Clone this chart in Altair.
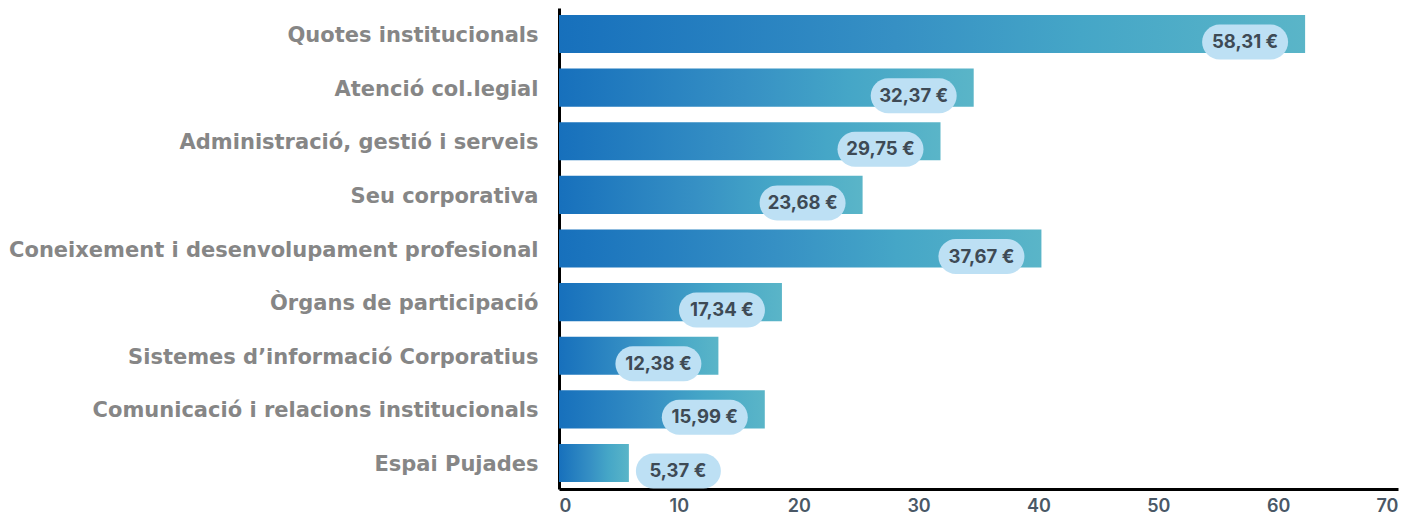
import altair as alt
import pandas as pd

categories = [
    "Quotes institucionals\u00a0",
    "Atenció col.legial",
    "Administració, gestió i serveis",
    "Seu corporativa",
    "Coneixement i desenvolupament profesional",
    "Òrgans de participació",
    "Sistemes d’informació Corporatius",
    "Comunicació i relacions institucionals",
    "Espai Pujades",
]
bar_values = [62.25, 34.6, 31.83, 25.33, 40.25, 18.6, 13.3, 17.17, 5.83]
value_labels = ["58,31 €", "32,37 €", "29,75 €", "23,68 €", "37,67 €",
                "17,34 €", "12,38 €", "15,99 €", "5,37 €"]
x_ticks = [0, 10, 20, 30, 40, 50, 60, 70]

df = pd.DataFrame({"cat": categories, "bar": bar_values, "label": value_labels})

FONT = "Inter"
LABEL_FONT = "DejaVu Sans"

y_enc = alt.Y(
    "cat:N", sort=categories, title=None,
    scale=alt.Scale(paddingInner=0.29, paddingOuter=0.13),
    axis=alt.Axis(
        labelFont=LABEL_FONT, labelFontSize=21, labelFontWeight="bold", labelColor="#868686",
        labelPadding=21, labelOffset=2, ticks=False, domainColor="#000000", domainWidth=3,
        labelLimit=600,
    ),
)
x_enc = alt.X(
    "bar:Q", title=None,
    scale=alt.Scale(domain=[0, 70], nice=False),
    axis=alt.Axis(
        values=x_ticks, labelFont=FONT, labelFontSize=18, labelFontWeight=600,
        labelColor="#4a5866", labelPadding=8, ticks=False, grid=False,
        domainColor="#000000", domainWidth=3,
    ),
)

gradient = alt.Gradient(
    gradient="linear",
    stops=[
        alt.GradientStop(color="#1770bc", offset=0),
        alt.GradientStop(color="#3690c4", offset=0.45),
        alt.GradientStop(color="#45a6c7", offset=0.7),
        alt.GradientStop(color="#5ab5c8", offset=1),
    ],
    x1=0, x2=1, y1=0, y2=0,
)

base = alt.Chart(df)

bars = base.mark_bar(color=gradient).encode(x=x_enc, y=y_enc)

inside = alt.datum.bar > 10
outside = alt.datum.bar <= 10

pill_in = base.transform_filter(inside).mark_bar(
    color="#bde0f4", height=35, yOffset=8, cornerRadius=17.5,
    xOffset=-103, x2Offset=-17,
).encode(x="bar:Q", x2="bar:Q", y=alt.Y("cat:N", sort=categories))

pill_out = base.transform_filter(outside).mark_bar(
    color="#bde0f4", height=35, yOffset=8, cornerRadius=17.5,
    xOffset=7, x2Offset=92,
).encode(x="bar:Q", x2="bar:Q", y=alt.Y("cat:N", sort=categories))

text_in = base.transform_filter(inside).mark_text(
    font=FONT, fontSize=18.5, fontWeight=700, color="#3e4a55",
    dx=-60, dy=8, align="center", baseline="middle",
).encode(x="bar:Q", y=alt.Y("cat:N", sort=categories), text="label:N")

text_out = base.transform_filter(outside).mark_text(
    font=FONT, fontSize=18.5, fontWeight=700, color="#3e4a55",
    dx=49, dy=8, align="center", baseline="middle",
).encode(x="bar:Q", y=alt.Y("cat:N", sort=categories), text="label:N")

chart = alt.layer(bars, pill_in, pill_out, text_in, text_out).properties(
    width=839, height=481,
    padding={"left": 551, "top": 0, "right": 18, "bottom": 26},
    autosize="none",
).configure_view(stroke=None)

chart.save("out.html", embed_options={"renderer": "svg", "actions": False})
